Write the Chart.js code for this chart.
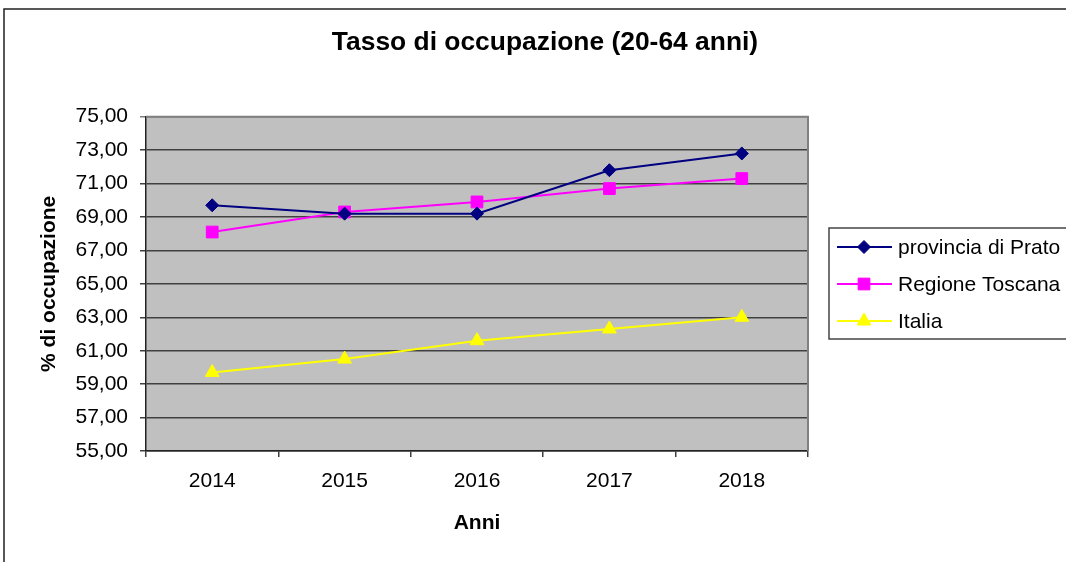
<!DOCTYPE html>
<html><head><meta charset="utf-8">
<script src="https://cdn.jsdelivr.net/npm/chart.js@4/dist/chart.umd.min.js"></script>
<style>html,body{margin:0;padding:0;background:#fff;overflow:hidden}canvas{display:block}</style>
</head><body>
<canvas id="c" width="1066" height="562"></canvas>
<script>
// ---- data ----
const categories = ['2014', '2015', '2016', '2017', '2018'];
const seriesNames = ['provincia di Prato', 'Regione Toscana', 'Italia'];
const prato   = [69.7, 69.2, 69.2, 71.8, 72.8];
const toscana = [68.1, 69.3, 69.9, 70.7, 71.3];
const italia  = [59.7, 60.5, 61.6, 62.3, 63.0];
const yMin = 55, yMax = 75, yStep = 2;
const chartTitle = 'Tasso di occupazione (20-64 anni)';
const xTitle = 'Anni';
const yTitle = '% di occupazione';

const FONT = "'Liberation Sans', Arial, sans-serif";

function drawMarker(ctx, style, r, x, y, color) {
  ctx.save();
  ctx.fillStyle = color; ctx.strokeStyle = color; ctx.lineWidth = 1;
  ctx.beginPath();
  if (style === 'rectRot') {
    ctx.moveTo(x, y - r); ctx.lineTo(x + r, y); ctx.lineTo(x, y + r); ctx.lineTo(x - r, y);
  } else if (style === 'rect') {
    const s = Math.SQRT1_2 * r; ctx.rect(x - s, y - s, 2 * s, 2 * s);
  } else if (style === 'triangle') {
    for (let i = 0; i < 3; i++) {
      const a = i * 2 * Math.PI / 3;
      const px = x + Math.sin(a) * r, py = y - Math.cos(a) * r;
      if (i === 0) ctx.moveTo(px, py); else ctx.lineTo(px, py);
    }
  }
  ctx.closePath(); ctx.fill(); ctx.stroke();
  ctx.restore();
}

const framePlugin = {
  id: 'frame',
  beforeDraw(chart) {
    const {ctx, chartArea: a} = chart;
    ctx.save();
    ctx.fillStyle = '#c0c0c0';
    ctx.fillRect(a.left, a.top, a.right - a.left, a.bottom - a.top);
    ctx.restore();
  },
  beforeDatasetsDraw(chart) {
    const {ctx, chartArea: a} = chart;
    ctx.save();
    ctx.strokeStyle = '#808080'; ctx.lineWidth = 2;
    ctx.beginPath();
    ctx.moveTo(a.left, a.top); ctx.lineTo(a.right, a.top); ctx.lineTo(a.right, a.bottom);
    ctx.stroke();
    ctx.restore();
  },
  afterDraw(chart) {
    const ctx = chart.ctx;
    ctx.save();
    // outer frame
    ctx.strokeStyle = '#222'; ctx.lineWidth = 1.5;
    ctx.beginPath();
    ctx.moveTo(4, 570); ctx.lineTo(4, 9); ctx.lineTo(1070, 9);
    ctx.stroke();
    // chart title
    ctx.fillStyle = '#000';
    ctx.font = 'bold 26.4px ' + FONT;
    ctx.textAlign = 'center'; ctx.textBaseline = 'middle';
    ctx.fillText(chartTitle, 545, 42.5);
    // legend box
    ctx.strokeStyle = '#444'; ctx.lineWidth = 1.5;
    ctx.fillStyle = '#fff';
    ctx.fillRect(829, 228, 250, 111);
    ctx.strokeRect(829, 228, 250, 111);
    ctx.font = '21px ' + FONT;
    ctx.textBaseline = 'middle';
    ctx.textAlign = 'left';
    chart.data.datasets.forEach((ds, i) => {
      const y = 247 + i * 37;
      ctx.strokeStyle = ds.borderColor; ctx.lineWidth = 2;
      ctx.beginPath(); ctx.moveTo(837, y); ctx.lineTo(892, y); ctx.stroke();
      drawMarker(ctx, ds.pointStyle, ds.pointRadius, 864, y, ds.borderColor);
      ctx.fillStyle = '#000';
      ctx.fillText(ds.label, 898, y + 1);
    });
    ctx.restore();
  }
};

new Chart(document.getElementById('c'), {
  type: 'line',
  data: {
    labels: categories,
    datasets: [
      { label: seriesNames[0], data: prato, borderColor: '#000080', backgroundColor: '#000080',
        pointStyle: 'rectRot', pointRadius: 6.5, borderWidth: 2, pointBorderWidth: 1 },
      { label: seriesNames[1], data: toscana, borderColor: '#ff00ff', backgroundColor: '#ff00ff',
        pointStyle: 'rect', pointRadius: 8.3, borderWidth: 2, pointBorderWidth: 1 },
      { label: seriesNames[2], data: italia, borderColor: '#ffff00', backgroundColor: '#ffff00',
        pointStyle: 'triangle', pointRadius: 8, borderWidth: 2, pointBorderWidth: 1 }
    ]
  },
  options: {
    responsive: false,
    devicePixelRatio: 1,
    animation: false,
    layout: { padding: { left: 0, right: 258, top: 116.7, bottom: 0 } },
    plugins: {
      legend: { display: false },
      tooltip: { enabled: false },
      title: { display: false }
    },
    scales: {
      x: {
        offset: true,
        grid: { offset: true, drawOnChartArea: false, drawTicks: true, tickLength: 6, color: '#404040', lineWidth: 1.5 },
        border: { display: true, color: '#222', width: 1.5 },
        ticks: { color: '#000', font: { family: FONT, size: 21 }, padding: 12, maxRotation: 0 },
        title: { display: true, text: xTitle, color: '#000', font: { family: FONT, size: 21, weight: 'bold' }, padding: { top: 0, bottom: 26 } },
        afterFit(scale) { scale.height = 111; }
      },
      y: {
        min: yMin, max: yMax,
        grid: {
          drawTicks: true, tickLength: 6, lineWidth: 1.5,
          color: (c) => (c.tick && c.tick.value === yMax) ? '#808080' : '#404040'
        },
        border: { display: true, color: '#222', width: 1.5 },
        ticks: {
          stepSize: yStep, color: '#000', font: { family: FONT, size: 21 }, padding: 12,
          callback: (v) => Number(v).toFixed(2).replace('.', ',')
        },
        title: { display: true, text: yTitle, color: '#000', font: { family: FONT, size: 21, weight: 'bold' }, padding: { top: 37, bottom: 0 } },
        afterFit(scale) { scale.width = 146; }
      }
    }
  },
  plugins: [framePlugin]
});
</script>
</body></html>
